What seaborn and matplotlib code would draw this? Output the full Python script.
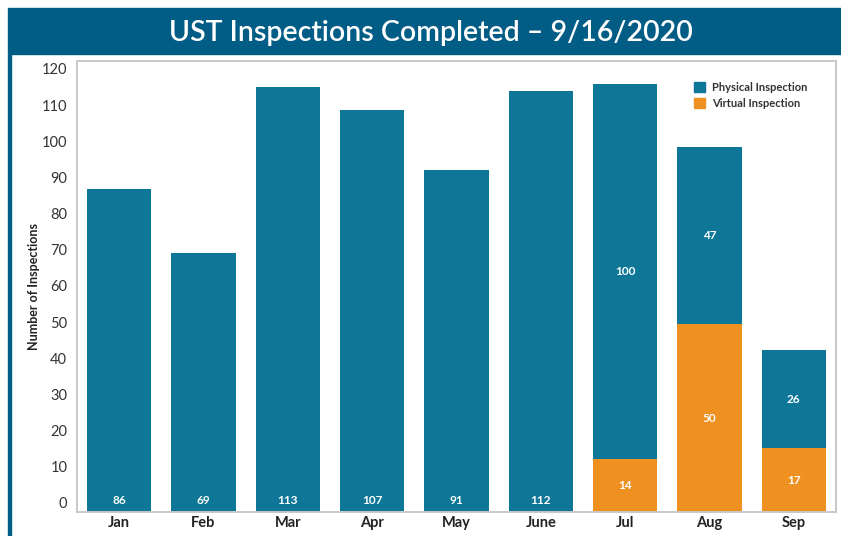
import matplotlib
matplotlib.use("Agg")
import matplotlib.pyplot as plt
from matplotlib.patches import Rectangle, Patch
import pandas as pd
import seaborn as sns

months = ["Jan", "Feb", "Mar", "Apr", "May", "June", "Jul", "Aug", "Sep"]
physical = [86, 69, 113, 107, 91, 112, 100, 47, 26]
virtual = [0, 0, 0, 0, 0, 0, 14, 50, 17]
y_ticks = [0, 10, 20, 30, 40, 50, 60, 70, 80, 90, 100, 110, 120]

BLUE = "#0e7798"
ORANGE = "#ef9120"
BANNER = "#015d85"

df = pd.DataFrame({"month": months, "physical": physical, "virtual": virtual})
df["total"] = df["physical"] + df["virtual"]

sns.set_theme(style="white")
plt.rcParams["font.family"] = ["Lato", "DejaVu Sans"]

fig = plt.figure(figsize=(8.41, 5.36), dpi=100)

# title banner + left accent line
fig.patches.append(Rectangle((8 / 841, 1 - 54 / 536), 1, 46 / 536,
                             transform=fig.transFigure, color=BANNER, zorder=0))
fig.patches.append(Rectangle((8 / 841, 0), 3 / 841, 1 - 54 / 536,
                             transform=fig.transFigure, color=BANNER, zorder=0))
fig.text(0.512, 1 - 33 / 536, "UST Inspections Completed \u2013 9/16/2020",
         ha="center", va="center", color="white", fontsize=20.5, fontweight="semibold")

ax = fig.add_axes([77 / 841, 1 - 512 / 536, (836 - 77) / 841, (512 - 61) / 536])

# stacked bars: total in blue, virtual overlaid from zero
sns.barplot(data=df, x="month", y="total", color=BLUE, width=0.76,
            saturation=1, linewidth=0, ax=ax)
sns.barplot(data=df, x="month", y="virtual", color=ORANGE, width=0.76,
            saturation=1, linewidth=0, ax=ax)

ax.set_ylim(0, 120)
ax.set_xlim(-0.5, len(months) - 0.5)
ax.set_yticks([])
ax.set_xlabel("")
ax.set_ylabel("")
ax.tick_params(axis="x", labelsize=10.5, colors="#222222", length=0, pad=3)
for lbl in ax.get_xticklabels():
    lbl.set_fontweight("bold")

# the value scale printed on the left sits slightly inset from the plot frame
scale = ax.twinx()
scale.yaxis.set_ticks_position("left")
scale.yaxis.set_label_position("left")
scale.set_ylim(-2.49, 122.2)
scale.set_yticks(y_ticks)
scale.tick_params(axis="y", labelsize=10.5, colors="#333333", length=0, pad=7)
scale.set_ylabel("Number of Inspections", fontsize=9, fontweight="bold",
                 color="#222222", labelpad=1)

for a in (ax, scale):
    for sp in a.spines.values():
        sp.set_color("#c8c8c8")
        sp.set_linewidth(1.2)

# value labels
lab = dict(ha="center", va="center", color="white", fontsize=8.5, fontweight="bold")
for i, row in df.iterrows():
    if row["virtual"] == 0:
        ax.text(i, 3, str(row["physical"]), **lab)
    else:
        ax.text(i, row["virtual"] + row["physical"] / 2, str(row["physical"]), **lab)
        ax.text(i, row["virtual"] / 2, str(row["virtual"]), **lab)

handles = [Patch(color=BLUE, label="Physical Inspection"),
           Patch(color=ORANGE, label="Virtual Inspection")]
leg = scale.legend(handles=handles, loc="upper right", bbox_to_anchor=(0.975, 0.975),
                   frameon=False, fontsize=8, handlelength=1.0, handleheight=1.0,
                   handletextpad=0.6, labelspacing=0.45)
for t in leg.get_texts():
    t.set_color("#333333")
    t.set_fontweight("bold")

fig.savefig("out.png", dpi=100)
